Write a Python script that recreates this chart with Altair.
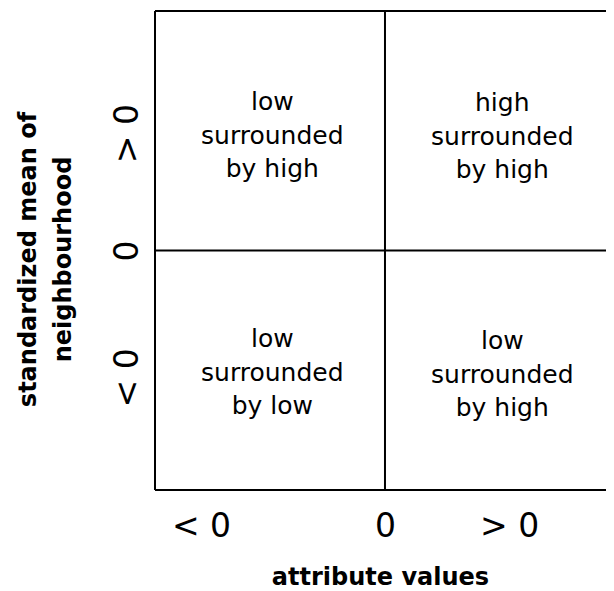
import altair as alt
import pandas as pd

# ---- data ----
x_domain = [-1, 0.961]
y_domain = [-1, 1]
x_tick_values = [-0.8, 0, 0.54]
x_tick_labels = ["< 0", "0", "> 0"]
y_tick_values = [-0.53, 0, 0.49]
y_tick_labels = ["< 0", "0", "> 0"]
cell_x = [-0.49, 0.51, -0.49, 0.51]
cell_y = [0.618, 0.614, -0.37, -0.378]
cell_text = [
    "low\nsurrounded\nby high",
    "high\nsurrounded\nby high",
    "low\nsurrounded\nby low",
    "low\nsurrounded\nby high",
]
x_title = "attribute values"
y_title = ["standardized mean of", "neighbourhood"]

FONT = "DejaVu Sans"


def label_expr(values, labels):
    expr = "''"
    for v, l in zip(values, labels):
        expr = f"abs(datum.value - ({v})) < 0.000001 ? '{l}' : " + expr
    return expr


# frame: left, top, bottom edges and the two dividers at 0
frame = pd.DataFrame({
    "x": [x_domain[0], x_domain[0], x_domain[0], 0, x_domain[0]],
    "x2": [x_domain[0], x_domain[1], x_domain[1], 0, x_domain[1]],
    "y": [y_domain[0], y_domain[1], y_domain[0], y_domain[0], 0],
    "y2": [y_domain[1], y_domain[1], y_domain[0], y_domain[1], 0],
})

cells = pd.DataFrame({"x": cell_x, "y": cell_y, "text": cell_text})

x_scale = alt.Scale(domain=x_domain, nice=False, zero=False)
y_scale = alt.Scale(domain=y_domain, nice=False, zero=False)

x_axis = alt.Axis(
    values=x_tick_values, labelExpr=label_expr(x_tick_values, x_tick_labels),
    title=x_title, domain=False, ticks=False, tickSize=0, grid=False,
    labelPadding=46, labelBaseline="alphabetic", labelAlign="center",
    labelFontSize=33, labelFont=FONT, labelColor="black",
    labelFlush=False, labelOverlap=False,
    titleFontSize=24, titleFont=FONT, titleFontWeight="bold", titleColor="black",
    titleX=225, titleY=94, titleBaseline="alphabetic", titleAlign="center",
)
y_axis = alt.Axis(
    values=y_tick_values, labelExpr=label_expr(y_tick_values, y_tick_labels),
    title=y_title, domain=False, ticks=False, tickSize=0, grid=False,
    labelAngle=270, labelPadding=18, labelBaseline="alphabetic", labelAlign="center",
    labelFontSize=33, labelFont=FONT, labelColor="black",
    labelFlush=False, labelOverlap=False,
    titleFontSize=24, titleFont=FONT, titleFontWeight="bold", titleColor="black",
    titleAngle=270, titleX=-120, titleY=248, titleBaseline="alphabetic",
    titleAlign="center", titleLineHeight=35,
)

rules = alt.Chart(frame).mark_rule(color="black", strokeWidth=2).encode(
    x=alt.X("x:Q", scale=x_scale, axis=x_axis),
    x2="x2:Q",
    y=alt.Y("y:Q", scale=y_scale, axis=y_axis),
    y2="y2:Q",
)

texts = alt.Chart(cells).mark_text(
    font=FONT, fontSize=25, lineBreak="\n", lineHeight=33.5,
    baseline="middle", align="center", color="black",
).encode(
    x=alt.X("x:Q", scale=x_scale, axis=x_axis),
    y=alt.Y("y:Q", scale=y_scale, axis=y_axis),
    text="text:N",
)

chart = alt.layer(rules, texts).properties(
    width=451, height=479,
    padding={"left": 147, "top": 3, "right": 0, "bottom": 101},
    autosize=alt.AutoSizeParams(type="none"),
    background="white",
).configure_view(stroke=None)

chart.save("out.html", embed_options={"renderer": "svg", "actions": False})
